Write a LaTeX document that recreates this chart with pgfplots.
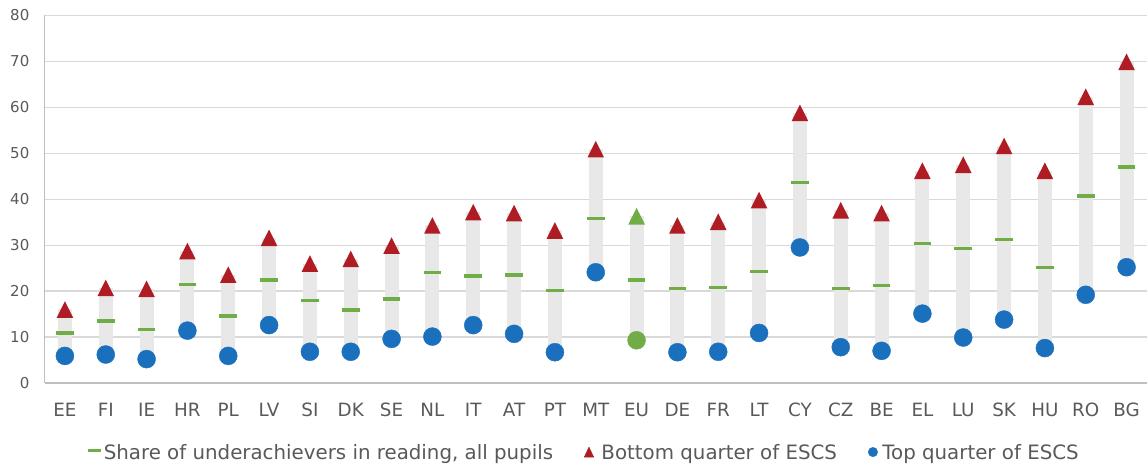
\documentclass[border=0pt]{standalone}
\usepackage{fontspec}
\setmainfont{DejaVu Sans}
\usepackage{pgfplots}
\pgfplotsset{compat=1.18}
\usepackage{pgfplotstable}
\definecolor{cgreen}{HTML}{70AD47}
\definecolor{cred}{HTML}{B01C24}
\definecolor{cblue}{HTML}{1A70BC}
\definecolor{cbar}{HTML}{E8E8E8}
\definecolor{cgrid}{HTML}{D9D9D9}
\definecolor{caxis}{HTML}{BFBFBF}
\definecolor{ctext}{HTML}{595959}
\newcommand\yfont{\fontsize{15}{18}\selectfont}
\newcommand\xfont{\fontsize{18.3}{22}\selectfont}
\newcommand\lfont{\fontsize{19.8}{24}\selectfont}

\pgfdeclareplotmark{sqtri}{%
  \pgfpathmoveto{\pgfqpoint{0pt}{\pgfplotmarksize}}%
  \pgfpathlineto{\pgfqpoint{\pgfplotmarksize}{-\pgfplotmarksize}}%
  \pgfpathlineto{\pgfqpoint{-\pgfplotmarksize}{-\pgfplotmarksize}}%
  \pgfpathclose\pgfusepathqfill}

% x: category index, low: top quarter of ESCS, mid: all pupils, high: bottom quarter of ESCS
\pgfplotstableread{
x low mid high
0 5.9 10.9 16.0
1 6.2 13.5 20.7
2 5.2 11.7 20.5
3 11.4 21.4 28.7
4 5.9 14.6 23.6
5 12.6 22.4 31.6
6 6.8 17.9 26.0
7 6.8 15.9 27.0
8 9.6 18.3 29.9
9 10.1 24.1 34.3
10 12.6 23.3 37.2
11 10.7 23.5 37.0
12 6.7 20.1 33.2
13 24.1 35.8 50.9
15 6.7 20.5 34.3
16 6.8 20.8 35.1
17 10.9 24.3 39.8
18 29.5 43.6 58.8
19 7.8 20.5 37.6
20 7.0 21.2 37.0
21 15.1 30.4 46.2
22 9.9 29.2 47.5
23 13.8 31.3 51.6
24 7.6 25.1 46.2
25 19.2 40.7 62.3
26 25.2 47.0 69.9
}\cdata
\pgfplotstableread{
x low mid high
14 9.3 22.4 36.3
}\eudata

\begin{document}
\begin{tikzpicture}[x=1pt,y=1pt]
\useasboundingbox (-44.5,-84) rectangle (1102.5,383);
\begin{axis}[
  at={(0,0)}, anchor=south west,
  scale only axis, width=1102.5pt, height=367.6pt,
  xmin=-0.5, xmax=26.5, ymin=0, ymax=80,
  ytick={0,10,...,80},
  xtick={0,...,26},
  xticklabels={EE,FI,IE,HR,PL,LV,SI,DK,SE,NL,IT,AT,PT,MT,EU,DE,FR,LT,CY,CZ,BE,EL,LU,SK,HU,RO,BG},
  axis lines*=left,
  axis line style={draw=caxis, line width=1.3pt, -},
  major tick length=0pt,
  ymajorgrids, grid style={draw=cgrid, line width=1.3pt},
  /pgf/number format/assume math mode=true,
  yticklabel style={font=\yfont, text=ctext, anchor=east, inner sep=0pt, xshift=-15pt},
  xticklabel style={font=\xfont, text=ctext, anchor=base, inner sep=0pt, yshift=-33.7pt},
  clip=false,
  legend columns=3,
  legend style={at={(axis description cs:0.0376,-0.19)}, anchor=west, draw=none, fill=none,
    inner sep=0pt, outer sep=0pt, font=\lfont, text=ctext, cells={anchor=west},
    nodes={inner sep=0pt},
    /tikz/every even column/.append style={column sep=31pt},
    /tikz/every odd column/.append style={column sep=0pt}},
]
% grey ranges
\addplot[only marks, mark=none, forget plot,
  error bars/.cd, y dir=plus, y explicit, error mark=none,
  error bar style={draw=cbar, line width=14pt}]
  table[x=x, y=low, y error expr=\thisrow{high}-\thisrow{low}] {\cdata};
\addplot[only marks, mark=none, forget plot,
  error bars/.cd, y dir=plus, y explicit, error mark=none,
  error bar style={draw=cbar, line width=14pt}]
  table[x=x, y=low, y error expr=\thisrow{high}-\thisrow{low}] {\eudata};
% all pupils
\addplot[only marks, color=cgreen, mark=-, mark size=8.8pt,
  mark options={draw=cgreen, line width=3.3pt},
  legend image code/.code={\draw[cgreen, line width=3.3pt] (0pt,2.1pt) -- (13pt,2.1pt); \path (16pt,0pt);}]
  table[x=x, y=mid] {\cdata};
\addlegendentry{Share of underachievers in reading, all pupils}
% bottom quarter
\addplot[only marks, color=cred, mark=sqtri, mark size=8.3pt,
  mark options={fill=cred, draw=none},
  legend image code/.code={\fill[cred] (0pt,-4.2pt) -- (9.4pt,-4.2pt) -- (4.7pt,5.8pt) -- cycle; \path (17pt,0pt);}]
  table[x=x, y=high] {\cdata};
\addlegendentry{Bottom quarter of ESCS}
% top quarter
\addplot[only marks, color=cblue, mark=*, mark size=9pt,
  mark options={fill=cblue, draw=none},
  legend image code/.code={\fill[cblue] (4.75pt,0.8pt) circle[radius=4.75pt]; \path (14pt,0pt);}]
  table[x=x, y=low] {\cdata};
\addlegendentry{Top quarter of ESCS}
% EU
\addplot[only marks, forget plot, color=cgreen, mark=-, mark size=8.8pt,
  mark options={draw=cgreen, line width=3.3pt}]
  table[x=x, y=mid] {\eudata};
\addplot[only marks, forget plot, color=cgreen, mark=sqtri, mark size=8.3pt,
  mark options={fill=cgreen, draw=none}]
  table[x=x, y=high] {\eudata};
\addplot[only marks, forget plot, color=cgreen, mark=*, mark size=9pt,
  mark options={fill=cgreen, draw=none}]
  table[x=x, y=low] {\eudata};
\end{axis}
\end{tikzpicture}
\end{document}
